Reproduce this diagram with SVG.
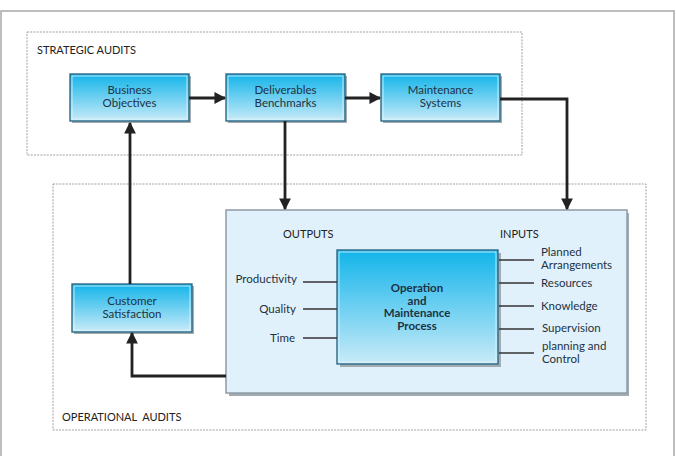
<svg xmlns="http://www.w3.org/2000/svg" width="676" height="456" viewBox="0 0 676 456">
<defs>
<linearGradient id="blue" x1="0" y1="0" x2="0" y2="1">
<stop offset="0" stop-color="#12b4ea"/>
<stop offset="1" stop-color="#c9ebf8"/>
</linearGradient>
<marker id="ah" viewBox="0 0 10 10" refX="9" refY="5" markerWidth="4.2" markerHeight="4.2" orient="auto" markerUnits="strokeWidth">
<path d="M0,0 L10,5 L0,10 z" fill="#222"/>
</marker>
<style>
.frame{fill:#fff;stroke:#a8a8a8;stroke-width:1.5}
.dash{fill:none;stroke:#888;stroke-width:0.8;stroke-dasharray:2 1.2}
.shadow{fill:#a3acb1}
.box{fill:url(#blue);stroke:#2d6a86;stroke-width:1.4}
.inner{fill:none;stroke:#dff4fc;stroke-width:0.8}
.big{fill:#e1f1fb;stroke:#8c9ba5;stroke-width:1.5}
.t{font-family:Lato,"Liberation Sans",sans-serif;font-size:11.5px;fill:#1d3243}
.c{text-anchor:middle}
.r{text-anchor:end}
.b{font-weight:bold;font-size:11.5px}
.lab{font-family:Lato,"Liberation Sans",sans-serif;font-size:11px;fill:#222}
.arr{fill:none;stroke:#222;stroke-width:2.8;marker-end:url(#ah)}
.tick{stroke:#333;stroke-width:1.6}
</style>
</defs>
<rect class="frame" x="1" y="11" width="673" height="460"/>
<rect class="dash" x="27" y="32" width="495" height="123"/>
<text class="lab" x="37" y="54">STRATEGIC AUDITS</text>
<rect class="dash" x="53" y="184" width="593" height="246"/>
<text class="lab" x="62" y="421" xml:space="preserve">OPERATIONAL  AUDITS</text>

<g id="process">
<rect class="shadow" x="229" y="213" width="400" height="183"/>
<rect class="big" x="226" y="210" width="401" height="183"/>
<text class="lab" x="283" y="238">OUTPUTS</text>
<text class="lab" x="500" y="238">INPUTS</text>
<rect class="shadow" x="340" y="253" width="161" height="114"/>
<rect class="box" x="337" y="250" width="161" height="114"/>
<rect class="inner" x="339" y="252" width="157" height="110"/>
<text class="t c b" x="417" y="292">Operation</text>
<text class="t c b" x="417" y="304.5">and</text>
<text class="t c b" x="417" y="317">Maintenance</text>
<text class="t c b" x="417" y="329.5">Process</text>
<g>
<line class="tick" x1="303" y1="282" x2="337" y2="282"/>
<line class="tick" x1="303" y1="309" x2="337" y2="309"/>
<line class="tick" x1="303" y1="338" x2="337" y2="338"/>
<text class="t r" x="297" y="283">Productivity</text>
<text class="t r" x="296" y="313">Quality</text>
<text class="t r" x="295" y="342">Time</text>
</g>
<g>
<line class="tick" x1="499" y1="260" x2="534" y2="260"/>
<line class="tick" x1="499" y1="283" x2="534" y2="283"/>
<line class="tick" x1="499" y1="306" x2="534" y2="306"/>
<line class="tick" x1="499" y1="329" x2="534" y2="329"/>
<line class="tick" x1="499" y1="353" x2="534" y2="353"/>
<text class="t" x="541" y="256">Planned</text>
<text class="t" x="541" y="269">Arrangements</text>
<text class="t" x="541" y="287">Resources</text>
<text class="t" x="541" y="310">Knowledge</text>
<text class="t" x="542" y="332">Supervision</text>
<text class="t" x="542" y="350">planning and</text>
<text class="t" x="542" y="363">Control</text>
</g>
</g>

<g id="business-objectives">
<rect class="shadow" x="72" y="76" width="119" height="47"/>
<rect class="box" x="70" y="74" width="119" height="47"/>
<rect class="inner" x="72" y="76" width="115" height="43"/>
<text class="t c" x="129.5" y="94">Business</text>
<text class="t c" x="129.5" y="107">Objectives</text>
</g>
<g id="deliverables-benchmarks">
<rect class="shadow" x="228" y="76" width="119" height="47"/>
<rect class="box" x="226" y="74" width="119" height="47"/>
<rect class="inner" x="228" y="76" width="115" height="43"/>
<text class="t c" x="285.5" y="94">Deliverables</text>
<text class="t c" x="285.5" y="107">Benchmarks</text>
</g>
<g id="maintenance-systems">
<rect class="shadow" x="383" y="76" width="119" height="47"/>
<rect class="box" x="381" y="74" width="119" height="47"/>
<rect class="inner" x="383" y="76" width="115" height="43"/>
<text class="t c" x="440.5" y="94">Maintenance</text>
<text class="t c" x="440.5" y="107">Systems</text>
</g>
<g id="customer-satisfaction">
<rect class="shadow" x="74" y="286" width="120" height="48"/>
<rect class="box" x="72" y="284" width="120" height="48"/>
<rect class="inner" x="74" y="286" width="116" height="44"/>
<text class="t c" x="132" y="305">Customer</text>
<text class="t c" x="132" y="318">Satisfaction</text>
</g>

<g id="connectors">
<path class="arr" d="M189,98 H225"/>
<path class="arr" d="M345,98 H380"/>
<path class="arr" d="M500,99 H567 V209"/>
<path class="arr" d="M285,121 V209"/>
<path class="arr" d="M130,284 V123"/>
<path class="arr" d="M226,376 H132 V333"/>
</g>
</svg>
